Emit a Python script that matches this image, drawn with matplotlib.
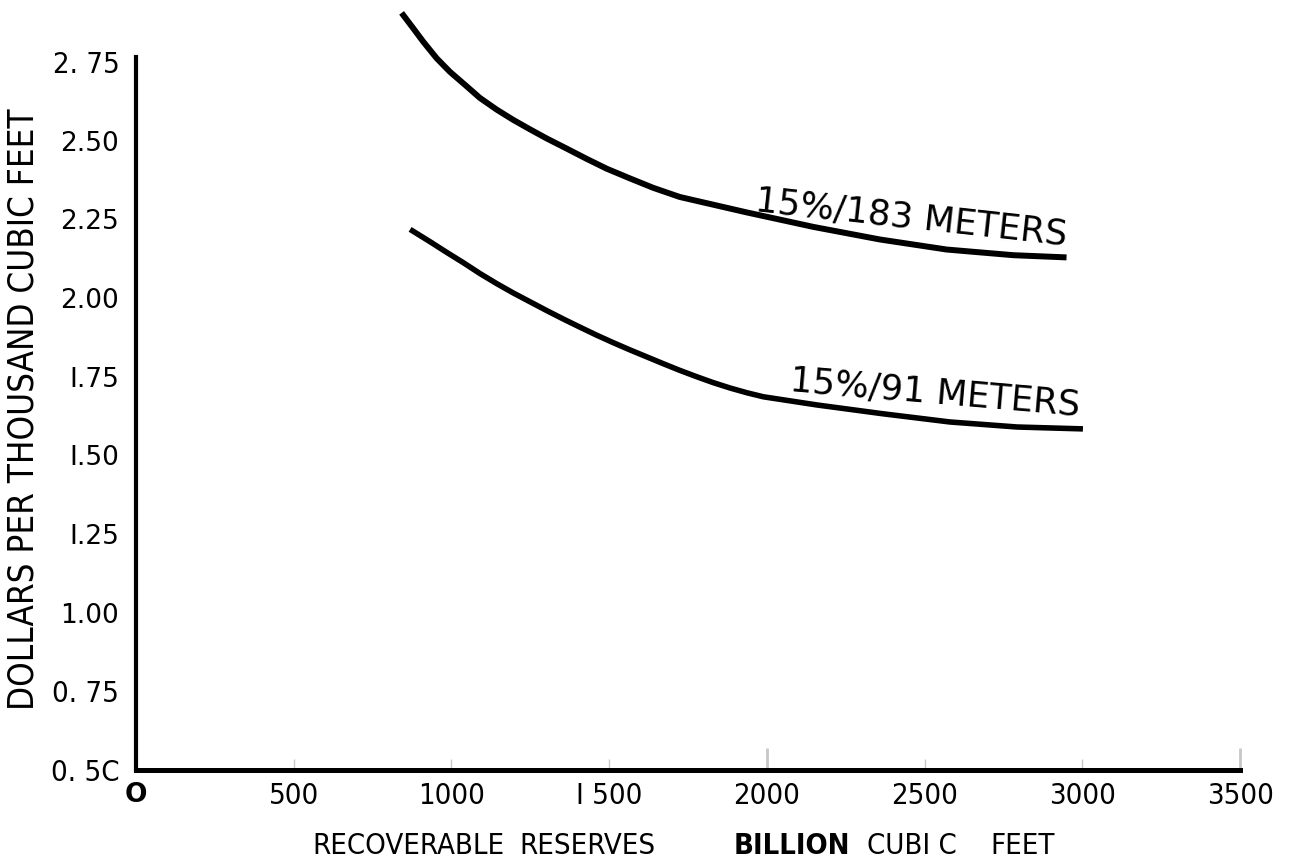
import matplotlib.pyplot as plt
from matplotlib import font_manager
from matplotlib.font_manager import FontProperties

# curve data (billion cubic feet, dollars per mcf)
x_183 = [842, 879, 911, 953, 995, 1048, 1090, 1143, 1196, 1249, 1302, 1365, 1429, 1492,
         1566, 1640, 1724, 1936, 2147, 2358, 2570, 2781, 2950]
y_183 = [2.906, 2.857, 2.814, 2.762, 2.719, 2.673, 2.636, 2.599, 2.566, 2.536, 2.507, 2.475,
         2.442, 2.411, 2.380, 2.350, 2.321, 2.272, 2.226, 2.186, 2.154, 2.136, 2.129]
x_91 = [869, 932, 985, 1038, 1090, 1143, 1196, 1249, 1302, 1355, 1408, 1460, 1513, 1566,
        1619, 1672, 1724, 1777, 1830, 1883, 1936, 1989, 2159, 2368, 2580, 2793, 3002]
y_91 = [2.218, 2.179, 2.145, 2.112, 2.078, 2.046, 2.016, 1.988, 1.960, 1.933, 1.907, 1.882,
        1.858, 1.835, 1.813, 1.791, 1.770, 1.750, 1.731, 1.714, 1.699, 1.686, 1.660, 1.632,
        1.606, 1.590, 1.584]

x_ticks = [0, 500, 1000, 1500, 2000, 2500, 3000, 3500]
x_labels = ['O', '500', '1000', 'I 500', '2000', '2500', '3000', '3500']
y_ticks = [0.50, 0.75, 1.00, 1.25, 1.50, 1.75, 2.00, 2.25, 2.50, 2.75]
y_labels = ['0. 5C', '0. 75', '1.00', 'I.25', 'I.50', 'I.75', '2.00', '2.25', '2.50', '2. 75']


def find_narrow(bold=False):
    best = None
    for f in font_manager.fontManager.ttflist:
        if not f.fname.lower().endswith(('.ttf', '.otf')):
            continue
        if 'Serif' in f.name or 'Mono' in f.name or 'Serif' in f.fname or 'Mono' in f.fname:
            continue
        narrowish = ('Narrow' in f.name or 'Condensed' in f.name or 'Condensed' in f.fname
                     or f.stretch in ('condensed', 'semi-condensed', 'extra-condensed'))
        if not narrowish or f.style != 'normal':
            continue
        w = f.weight if isinstance(f.weight, int) else (700 if f.weight == 'bold' else 400)
        if (w >= 600) != bold:
            continue
        best = f.fname
        if 'Liberation' in f.name or 'DejaVu' in f.name:
            break
    return best


nar = find_narrow(False)
nar_b = find_narrow(True) or nar


def fp(size, bold=False):
    path = nar_b if bold else nar
    if path:
        return FontProperties(fname=path, size=size)
    return FontProperties(family='DejaVu Sans', size=size * 0.8,
                          weight='bold' if bold else 'normal')


fig = plt.figure(figsize=(12.89, 8.67), dpi=100)
ax = fig.add_axes([0.1055, 0.1119, 0.8565, 0.8166])

ax.plot(x_183, y_183, color='black', lw=4.3, clip_on=False,
        solid_capstyle='butt', solid_joinstyle='round')
ax.plot(x_91, y_91, color='black', lw=4.0, clip_on=False,
        solid_capstyle='butt', solid_joinstyle='round')

ax.text(1962, 2.278, '15%/183 METERS', fontsize=25.5, rotation=-6.3,
        ha='left', va='baseline', rotation_mode='anchor', family='DejaVu Sans')
ax.text(2070, 1.705, '15%/91 METERS', fontsize=25.5, rotation=-4.9,
        ha='left', va='baseline', rotation_mode='anchor', family='DejaVu Sans')

ax.set_xlim(0, 3500)
ax.set_ylim(0.5, 2.75)
for s in ['top', 'right']:
    ax.spines[s].set_visible(False)
ax.spines['left'].set_linewidth(3)
ax.spines['bottom'].set_linewidth(3.6)
ax.spines['left'].set_bounds(0.5, 2.765)

ax.set_xticks(x_ticks, x_labels)
ax.set_yticks(y_ticks, y_labels)
ax.tick_params(axis='x', direction='in', length=8, width=1, color='#c8c8c8', pad=9)
ax.tick_params(axis='y', length=0, pad=12)

for t, lab in zip(ax.xaxis.get_major_ticks(), x_labels):
    if lab == 'O':
        t.label1.set_fontproperties(FontProperties(family='DejaVu Sans', weight='bold', size=19))
    else:
        t.label1.set_fontproperties(fp(21))
for i in (4, 7):
    tk = ax.xaxis.get_major_ticks()[i]
    tk.tick1line.set_color('black')
    tk.tick1line.set_markersize(16)
    tk.tick1line.set_markeredgewidth(2)

for t, lab in zip(ax.yaxis.get_major_ticks(), y_labels):
    if ' ' in lab:
        t.label1.set_fontproperties(fp(21))
    else:
        t.label1.set_fontproperties(FontProperties(family='DejaVu Sans', size=19))

fig.text(0.018, 0.528, 'DOLLARS PER THOUSAND CUBIC FEET', rotation=90,
         ha='center', va='center', fontproperties=fp(25))

words = [('RECOVERABLE', 0.242, False), ('RESERVES', 0.403, False),
         ('BILLION', 0.569, True), ('CUBI C', 0.673, False), ('FEET', 0.768, False)]
for w, xp, b in words:
    fig.text(xp, 0.008, w, ha='left', va='bottom', fontproperties=fp(21, bold=b))

fig.savefig('out.png', dpi=100)
